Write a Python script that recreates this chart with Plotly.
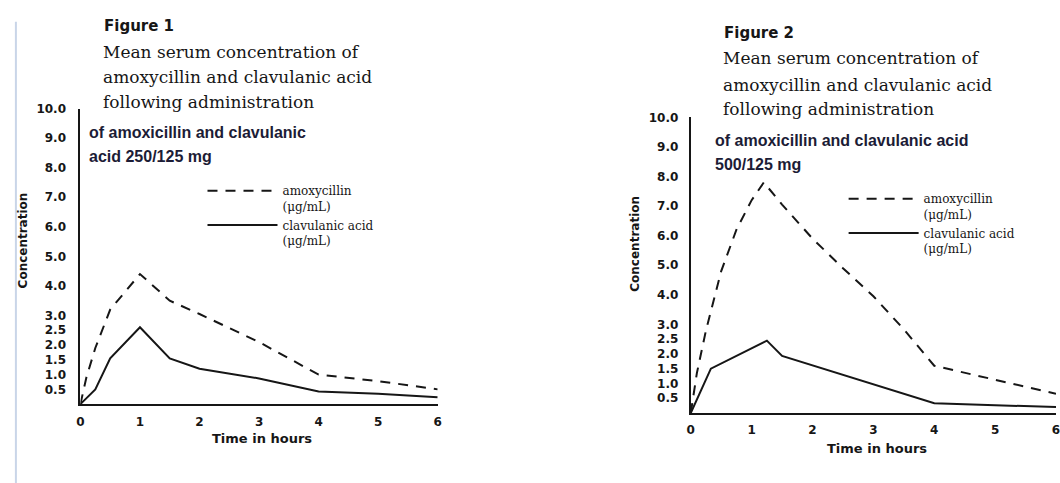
import plotly.graph_objects as go

W, H = 1060, 483

# ---------------- data ----------------
hours_ticks = [0, 1, 2, 3, 4, 5, 6]
conc_tickvals = [0.5, 1.0, 1.5, 2.0, 2.5, 3.0, 4.0, 5.0, 6.0, 7.0, 8.0, 9.0, 10.0]
conc_ticktext = ["0.5", "1.0", "1.5", "2.0", "2.5", "3.0", "4.0", "5.0", "6.0", "7.0", "8.0", "9.0", "10.0"]

# Figure 1: 250/125 mg
f1_amox_t = [0, 0.1, 0.25, 0.5, 0.75, 1.0, 1.5, 2.0, 3.0, 4.0, 5.0, 6.0]
f1_amox_c = [0, 0.9, 1.9, 3.2, 3.8, 4.4, 3.5, 3.05, 2.1, 1.0, 0.78, 0.5]
f1_clav_t = [0, 0.25, 0.5, 1.0, 1.5, 2.0, 3.0, 4.0, 5.0, 6.0]
f1_clav_c = [0, 0.5, 1.55, 2.6, 1.55, 1.2, 0.87, 0.43, 0.35, 0.23]

# Figure 2: 500/125 mg
f2_amox_t = [0, 0.1, 0.25, 0.5, 0.75, 1.0, 1.2, 1.5, 2.0, 2.5, 3.0, 3.5, 4.0, 5.0, 6.0]
f2_amox_c = [0, 1.35, 2.8, 4.8, 6.2, 7.2, 7.8, 7.05, 5.9, 4.9, 3.95, 2.83, 1.6, 1.13, 0.65]
f2_clav_t = [0, 0.33, 1.25, 1.5, 4.0, 6.0]
f2_clav_c = [0, 1.5, 2.45, 1.93, 0.33, 0.2]

amox_name = "amoxycillin<br>(μg/mL)"
clav_name = "clavulanic acid<br>(μg/mL)"

# ---------------- helpers ----------------
def px(x):
    return x / W

def py(y):
    return 1 - y / H

INK = "#161616"
SERIF = "DejaVu Serif"
SANS = "DejaVu Sans"
ARIAL = "Liberation Sans"

fig = go.Figure()

fig.add_trace(go.Scatter(x=f1_amox_t, y=f1_amox_c, mode="lines", name=amox_name,
                         line=dict(color=INK, width=2, dash="10px,8px"),
                         xaxis="x", yaxis="y", legend="legend"))
fig.add_trace(go.Scatter(x=f1_clav_t, y=f1_clav_c, mode="lines", name=clav_name,
                         line=dict(color=INK, width=2),
                         xaxis="x", yaxis="y", legend="legend"))
fig.add_trace(go.Scatter(x=f2_amox_t, y=f2_amox_c, mode="lines", name=amox_name,
                         line=dict(color=INK, width=2, dash="10px,8px"),
                         xaxis="x2", yaxis="y2", legend="legend2"))
fig.add_trace(go.Scatter(x=f2_clav_t, y=f2_clav_c, mode="lines", name=clav_name,
                         line=dict(color=INK, width=2),
                         xaxis="x2", yaxis="y2", legend="legend2"))

tickfont = dict(family=SANS, size=12, color=INK, weight="bold")

xcommon = dict(range=[0, 6], tickvals=hours_ticks, showgrid=False, zeroline=False,
               showline=True, linecolor=INK, linewidth=2, ticks="",
               tickfont=tickfont, fixedrange=True, ticklabeloverflow="allow")
ycommon = dict(range=[0, 10], tickvals=conc_tickvals, ticktext=conc_ticktext,
               showgrid=False, zeroline=False, showline=True, linecolor=INK,
               linewidth=2, ticks="", tickfont=tickfont, fixedrange=True)

legfont = dict(family=SERIF, size=12, color=INK)

fig.update_layout(
    width=W, height=H,
    margin=dict(l=0, r=0, t=0, b=0),
    paper_bgcolor="white", plot_bgcolor="rgba(0,0,0,0)",
    xaxis=dict(xcommon, domain=[px(77), px(437)], anchor="y", ticklabelstandoff=5),
    yaxis=dict(ycommon, domain=[py(403), py(103)], anchor="x", ticklabelstandoff=10),
    xaxis2=dict(xcommon, domain=[px(692), 1.0], anchor="y2", ticklabelstandoff=5),
    yaxis2=dict(ycommon, domain=[py(412), py(112)], anchor="x2", ticklabelstandoff=8),
    legend=dict(x=px(200), y=py(172), xanchor="left", yanchor="top",
                bgcolor="rgba(0,0,0,0)", font=legfont,
                valign="top", tracegroupgap=0, itemwidth=70),
    legend2=dict(x=px(846), y=py(180), xanchor="left", yanchor="top",
                 bgcolor="rgba(0,0,0,0)", font=legfont,
                 valign="top", tracegroupgap=0, itemwidth=70),
    showlegend=True,
)

annotations = []

def txt(s, x, y, size, family, weight="normal", color=INK, xanchor="left", angle=0):
    annotations.append(dict(text=s, x=px(x), y=py(y), xref="paper", yref="paper",
                            xanchor=xanchor, yanchor="middle", showarrow=False,
                            textangle=angle,
                            font=dict(family=family, size=size, color=color, weight=weight)))

# Figure 1 header
txt("Figure 1", 99, 19, 15, SANS, "bold")
txt("Mean serum concentration of", 98, 46, 17, SERIF)
txt("amoxycillin and clavulanic acid", 98, 71, 17, SERIF)
txt("following administration", 98, 96, 17, SERIF)
txt("of amoxicillin and clavulanic", 84, 127, 16, ARIAL, "bold", "#1c1c36")
txt("acid 250/125 mg", 84, 152, 16, ARIAL, "bold", "#1c1c36")
txt("Time in hours", 260, 438, 13, SANS, "bold", xanchor="center")
txt("Concentration", 19, 237, 12, SANS, "bold", xanchor="center", angle=-90)

# Figure 2 header
txt("Figure 2", 723, 26, 15, SANS, "bold")
txt("Mean serum concentration of", 722, 52, 17, SERIF)
txt("amoxycillin and clavulanic acid", 722, 79, 17, SERIF)
txt("following administration", 722, 104, 17, SERIF)
txt("of amoxicillin and clavulanic acid", 714, 135, 16, ARIAL, "bold", "#1c1c36")
txt("500/125 mg", 714, 160, 16, ARIAL, "bold", "#1c1c36")
txt("Time in hours", 880, 448, 13, SANS, "bold", xanchor="center")
txt("Concentration", 635, 240, 12, SANS, "bold", xanchor="center", angle=-90)

fig.update_layout(annotations=annotations)

# faint scan border on the left
fig.add_shape(type="line", xref="paper", yref="paper", x0=px(12), x1=px(12),
              y0=py(15), y1=0, line=dict(color="#c9d5e8", width=2))

fig.write_html("out.html", config={"displayModeBar": False},
               post_script="document.body.style.margin='0';document.body.style.overflow='hidden';")
